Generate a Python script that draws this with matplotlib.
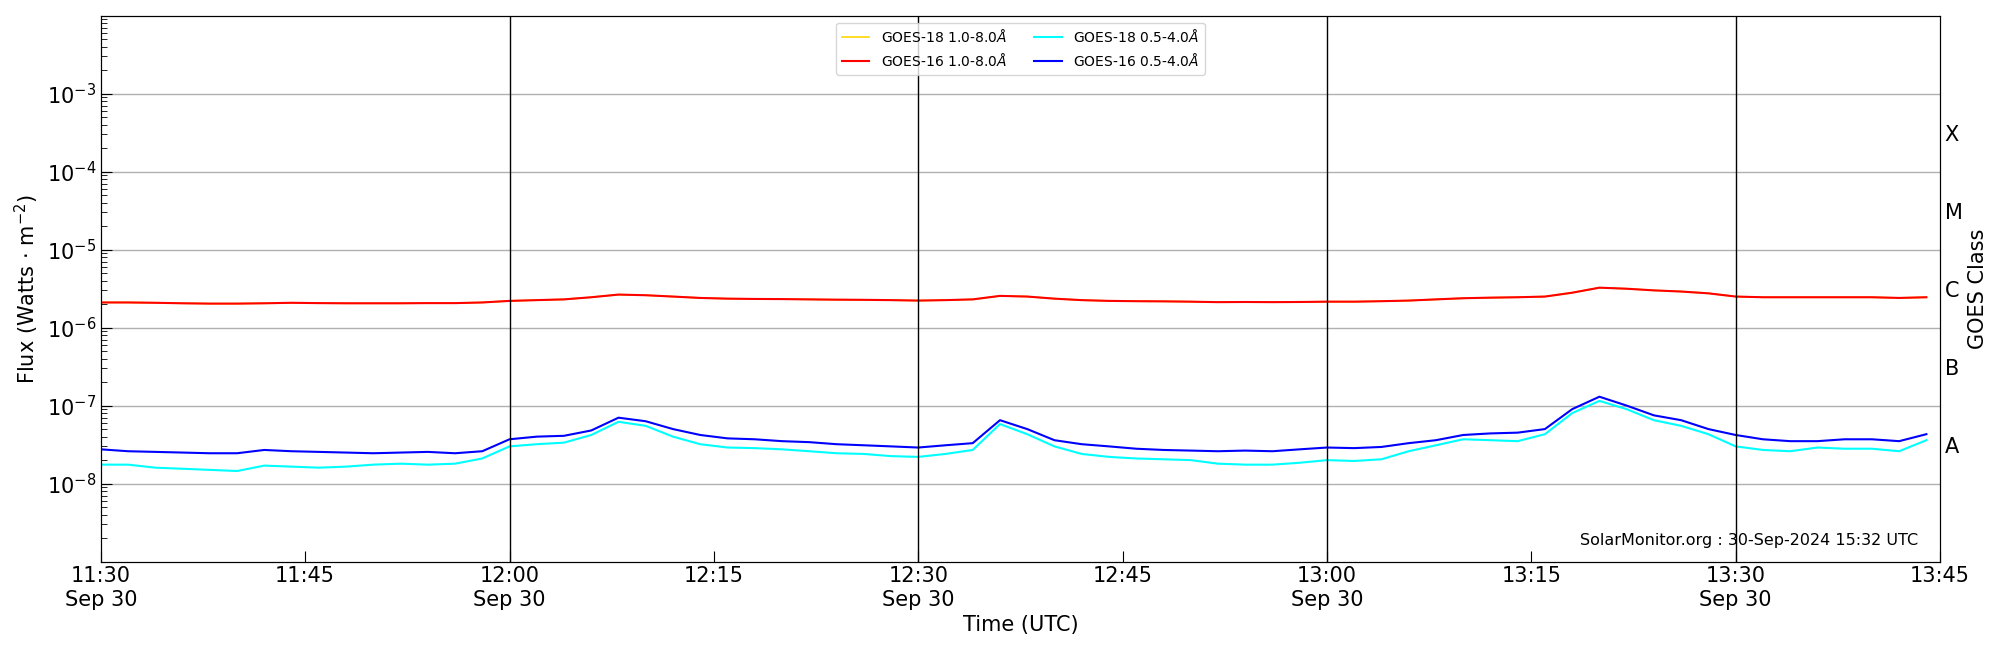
import numpy as np
import pandas as pd
import matplotlib
matplotlib.use("Agg")
import matplotlib.pyplot as plt
import matplotlib.dates as mdates

minutes = list(range(0, 136, 2))
times = pd.Timestamp("2024-09-30 11:30") + pd.to_timedelta(minutes, unit="min")

g16_long = [2.1, 2.1, 2.08, 2.05, 2.03, 2.03, 2.05, 2.08, 2.06, 2.05, 2.05, 2.05, 2.06, 2.06, 2.1,
            2.2, 2.25, 2.3, 2.45, 2.65, 2.6, 2.5, 2.4, 2.35, 2.33, 2.32, 2.3, 2.28, 2.27, 2.25,
            2.22, 2.25, 2.3, 2.55, 2.5, 2.35, 2.25, 2.2, 2.18, 2.17, 2.15, 2.12, 2.13, 2.12, 2.13,
            2.15, 2.15, 2.18, 2.22, 2.3, 2.38, 2.42, 2.45, 2.5, 2.8, 3.25, 3.15, 3.0, 2.9, 2.75,
            2.5, 2.45, 2.45, 2.45, 2.45, 2.45, 2.4, 2.45]
g18_long = g16_long
g16_short = [2.75, 2.6, 2.55, 2.5, 2.45, 2.45, 2.7, 2.6, 2.55, 2.5, 2.45, 2.5, 2.55, 2.45, 2.6,
             3.7, 4.0, 4.1, 4.8, 7.0, 6.3, 5.0, 4.2, 3.8, 3.7, 3.5, 3.4, 3.2, 3.1, 3.0,
             2.9, 3.1, 3.3, 6.5, 5.0, 3.6, 3.2, 3.0, 2.8, 2.7, 2.65, 2.6, 2.65, 2.6, 2.75,
             2.9, 2.85, 2.95, 3.3, 3.6, 4.2, 4.4, 4.5, 5.0, 9.0, 13.0, 10.0, 7.5, 6.5, 5.0,
             4.2, 3.7, 3.5, 3.5, 3.7, 3.7, 3.5, 4.3]
g18_short = [1.75, 1.75, 1.6, 1.55, 1.5, 1.45, 1.7, 1.65, 1.6, 1.65, 1.75, 1.8, 1.75, 1.8, 2.1,
             3.0, 3.2, 3.35, 4.2, 6.2, 5.5, 4.0, 3.2, 2.9, 2.85, 2.75, 2.6, 2.45, 2.4, 2.25,
             2.2, 2.4, 2.7, 5.8, 4.3, 3.0, 2.4, 2.2, 2.1, 2.05, 2.0, 1.8, 1.75, 1.75, 1.85,
             2.0, 1.95, 2.05, 2.6, 3.1, 3.7, 3.6, 3.5, 4.3, 8.0, 11.5, 9.0, 6.5, 5.5, 4.3,
             3.0, 2.7, 2.6, 2.9, 2.8, 2.8, 2.6, 3.6]

fig = plt.figure(figsize=(20, 6.5), dpi=100)
ax = fig.add_axes([0.0504, 0.136, 0.9196, 0.84])
ax.plot(times, np.array(g18_long) * 1e-6, color="gold", lw=1.2, label=r"GOES-18 1.0-8.0$\AA$")
ax.plot(times, np.array(g16_long) * 1e-6, color="red", lw=1.5, label=r"GOES-16 1.0-8.0$\AA$")
ax.plot(times, np.array(g18_short) * 1e-8, color="cyan", lw=1.5, label=r"GOES-18 0.5-4.0$\AA$")
ax.plot(times, np.array(g16_short) * 1e-8, color="blue", lw=1.5, label=r"GOES-16 0.5-4.0$\AA$")

ax.set_yscale("log")
ax.set_ylim(1e-9, 1e-2)
ax.set_xlim(pd.Timestamp("2024-09-30 11:30"), pd.Timestamp("2024-09-30 13:45"))
ax.set_yticks([1e-8, 1e-7, 1e-6, 1e-5, 1e-4, 1e-3])
ax.yaxis.grid(True, which="major", color="#b0b0b0", lw=1)
for t in ["12:00", "12:30", "13:00", "13:30"]:
    ax.axvline(pd.Timestamp("2024-09-30 " + t), color="black", lw=1)

ax.xaxis.set_major_locator(mdates.MinuteLocator(byminute=[0, 15, 30, 45]))
def fmt(x, pos):
    d = mdates.num2date(x)
    s = d.strftime("%H:%M")
    if d.minute in (0, 30):
        s += "\nSep 30"
    return s
ax.xaxis.set_major_formatter(plt.FuncFormatter(fmt))
ax.tick_params(axis="both", which="both", direction="in", labelsize=15)
ax.tick_params(axis="both", which="major", length=8)
ax.tick_params(axis="y", which="minor", length=4)
ax.set_xlabel("Time (UTC)", fontsize=15)
ax.set_ylabel(r"Flux (Watts $\cdot$ m$^{-2}$)", fontsize=15)

ax2 = ax.twinx()
ax2.set_yscale("log")
ax2.set_ylim(1e-9, 1e-2)
ax2.set_yticks([10**-7.5, 10**-6.5, 10**-5.5, 10**-4.5, 10**-3.5])
ax2.set_yticklabels(["A", "B", "C", "M", "X"])
ax2.minorticks_off()
ax2.tick_params(axis="y", length=0, labelsize=15)
ax2.set_ylabel("GOES Class", fontsize=15)

ax.legend(loc="upper center", ncol=2, fontsize=10)
ax.text(0.988, 0.025, "SolarMonitor.org : 30-Sep-2024 15:32 UTC", transform=ax.transAxes,
        ha="right", va="bottom", fontsize=11.5)
fig.savefig("out.png")
